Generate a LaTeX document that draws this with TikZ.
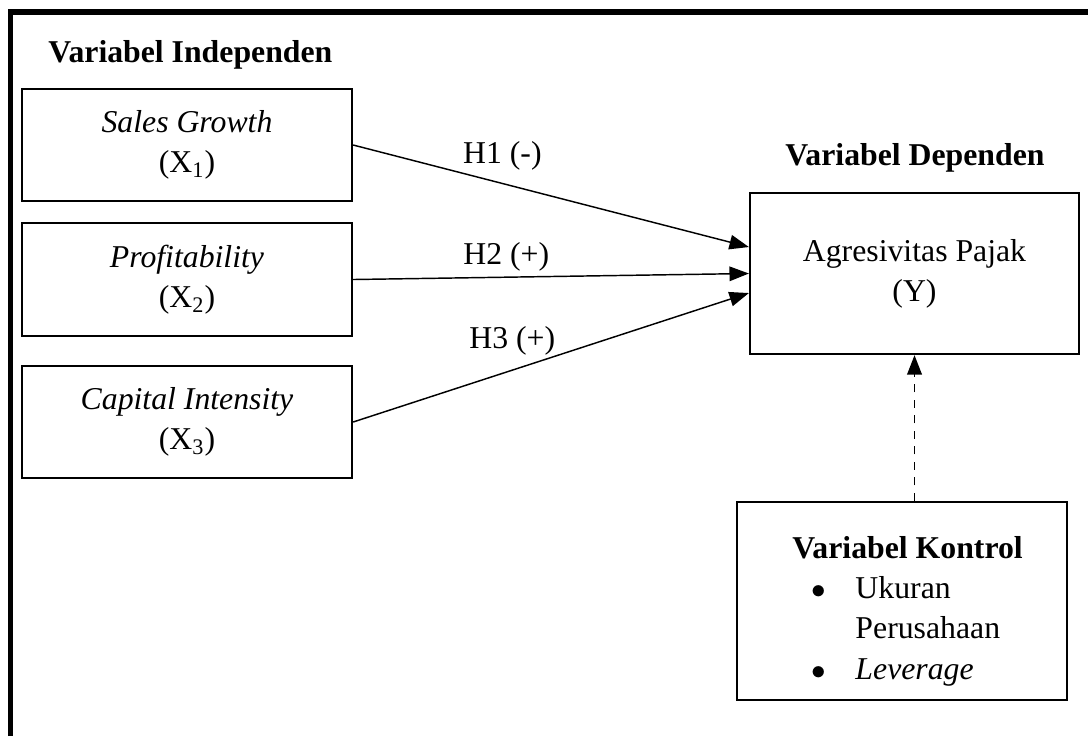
\documentclass[tikz,border=0pt]{standalone}
\usepackage{fontspec}
\setmainfont{Liberation Serif}
\usetikzlibrary{arrows.meta,positioning,calc}

\begin{document}
\fontsize{13.1}{16.6}\selectfont
\begin{tikzpicture}[x=0.0145cm,y=-0.0145cm,
  varbox/.style={draw,line width=0.9pt,align=center,minimum width=4.785cm,minimum height=1.624cm,inner sep=0pt},
  hyp/.style={line width=0.6pt,-{Triangle[length=8pt,width=6pt]}},
  hlabel/.style={inner sep=2pt}]
\useasboundingbox (0,0) rectangle (1088,736);
% outer frame
\draw[line width=2.1pt] (10.5,736) -- (10.5,12) -- (1088,12);

% independent variables
\node[font=\bfseries,anchor=base west,inner sep=0pt] (indlab) at (48,62) {Variabel Independen};
\node[varbox] (x1) at (187,145) {\textit{Sales Growth}\\(X\textsubscript{1})};
\node[varbox,minimum height=1.6385cm] (x2) at (187,279.5) {\textit{Profitability}\\(X\textsubscript{2})};
\node[varbox] (x3) at (187,422) {\textit{Capital Intensity}\\(X\textsubscript{3})};

% dependent variable
\node[font=\bfseries,anchor=base,inner sep=0pt] (deplab) at (915,165) {Variabel Dependen};
\node[varbox,minimum width=4.77cm,minimum height=2.335cm] (agr) at (914.5,273.5) {Agresivitas Pajak\\(Y)};

% control variables
\node[draw,line width=0.9pt,minimum width=4.785cm,minimum height=2.871cm,inner sep=0pt] (kontrol) at (902,601) {%
  \hspace{4.6pt}\raisebox{0pt}[\dimexpr\height+8pt\relax]{\begin{tabular}{@{\hspace{8pt}}l@{\hspace{12pt}}l@{}}
  \multicolumn{2}{@{}c@{}}{\textbf{Variabel Kontrol}}\\
  $\bullet$ & Ukuran\\
   & Perusahaan\\
  $\bullet$ & \textit{Leverage}
  \end{tabular}}};

% hypotheses
\draw[hyp] (x1.east) -- node[hlabel,pos=0.377,above=3pt] (h1) {H1 (-)} ([yshift=0.384cm]agr.west);
\draw[hyp] (x2.east) -- node[hlabel,pos=0.387,above=0pt] (h2) {H2 (+)} (agr.west);
\draw[hyp] (x3.east) -- node[hlabel,pos=0.402,above=4pt] (h3) {H3 (+)} ([yshift=-0.283cm]agr.west);
\draw[line width=0.8pt,dash pattern=on 3.4pt off 3pt,-{Triangle[length=8pt,width=6pt]}] (kontrol.north -| agr.south) -- (agr.south);
\end{tikzpicture}
\end{document}
